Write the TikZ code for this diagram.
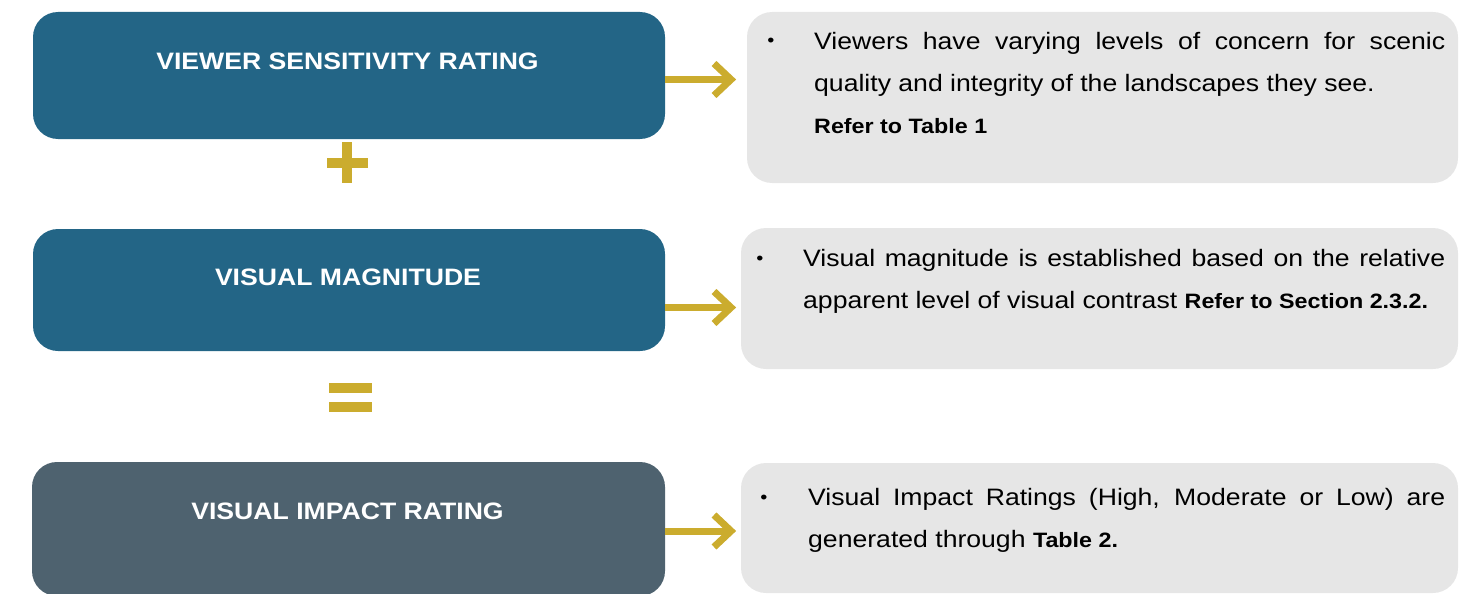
\documentclass[tikz,border=0pt]{standalone}
\usepackage{fontspec}
\setmainfont{Liberation Sans}[FakeStretch=1.12]
\definecolor{vblue}{HTML}{236586}
\definecolor{vslate}{HTML}{4E626F}
\definecolor{vlight}{HTML}{E6E6E6}
\definecolor{vgold}{HTML}{CBAC2E}
\AtBeginDocument{\hyphenpenalty=10000 \exhyphenpenalty=10000 \emergencystretch=20pt}
\tikzset{
  leftbox/.style={fill=vblue, rounded corners=25pt, inner sep=0pt, draw=none},
  rightbox/.style={fill=vlight, rounded corners=25pt, inner sep=0pt, draw=none},
  titletext/.style={text=white, font=\fontsize{23.75}{28}\selectfont\bfseries, anchor=base, inner sep=0pt},
  bodytext/.style={anchor=north west, inner sep=0pt, align=justify,
    font=\fontsize{23.75}{42}\selectfont},
  bulletmark/.style={anchor=base, inner sep=0pt, font=\fontsize{18}{20}\selectfont},
  shaft/.style={draw=vgold, line width=7pt},
  chev/.style={draw=vgold, line width=7pt, miter limit=10},
  opbar/.style={fill=vgold, draw=none}
}
\newcommand{\refb}[1]{{\fontsize{20.8}{42}\selectfont\bfseries #1}}
\newcommand{\firststrut}{\vrule width 0pt height 20pt depth 0pt\relax}
\begin{document}
\begin{tikzpicture}[x=1pt,y=-1pt]
\useasboundingbox (0,0) rectangle (1478,594);
% left boxes
\node[leftbox, minimum width=632pt, minimum height=127pt] (b1) at (349,75.5) {};
\node[leftbox, minimum width=632pt, minimum height=122pt] (b2) at (349,290) {};
\node[leftbox, fill=vslate, minimum width=633pt, minimum height=134pt] (b3) at (348.5,529) {};
\node[titletext] (t1) at (347.5,70) {VIEWER SENSITIVITY RATING};
\node[titletext] (t2) at (348,285.5) {VISUAL MAGNITUDE};
\node[titletext] (t3) at (347.5,519.5) {VISUAL IMPACT RATING};
% right boxes
\node[rightbox, minimum width=711pt, minimum height=171pt] (r1) at (1102.5,97.5) {};
\node[rightbox, minimum width=717pt, minimum height=141pt] (r2) at (1099.5,298.5) {};
\node[rightbox, minimum width=717pt, minimum height=130pt] (r3) at (1099.5,528) {};
% bullets
\node[bulletmark] (u1) at (771,47) {•};
\node[bulletmark] (u2) at (760,264) {•};
\node[bulletmark] (u3) at (764,503) {•};
% body text
\node[bodytext, text width=631pt] (p1) at (814,29) {\firststrut Viewers have varying levels of concern for scenic\linebreak quality and integrity of the landscapes they see.\\ \refb{Refer to Table 1}};
\node[bodytext, text width=642pt] (p2) at (803,246) {\firststrut Visual magnitude is established based on the relative\linebreak apparent level of visual contrast \refb{Refer to Section 2.3.2.}};
\node[bodytext, text width=637pt] (p3) at (808,485) {\firststrut Visual Impact Ratings (High, Moderate or Low) are\linebreak generated through \refb{Table 2.}};
% arrows
\coordinate (a1) at (731,79.5);
\coordinate (a2) at (731,307.5);
\coordinate (a3) at (731,531);
\foreach \a/\b in {a1/b1, a2/b2, a3/b3}{
  \draw[shaft] (\b.east |- \a) -- ([xshift=-2pt]\a);
  \draw[chev] ([shift={(-17pt,16pt)}]\a) -- (\a) -- ([shift={(-17pt,-16pt)}]\a);
}
% plus sign
\fill[opbar] (342,142) rectangle (352,183);
\fill[opbar] (327,158) rectangle (368,168);
% equals sign
\fill[opbar] (329,383) rectangle (372,393);
\fill[opbar] (329,402) rectangle (372,412);
\end{tikzpicture}
\end{document}
